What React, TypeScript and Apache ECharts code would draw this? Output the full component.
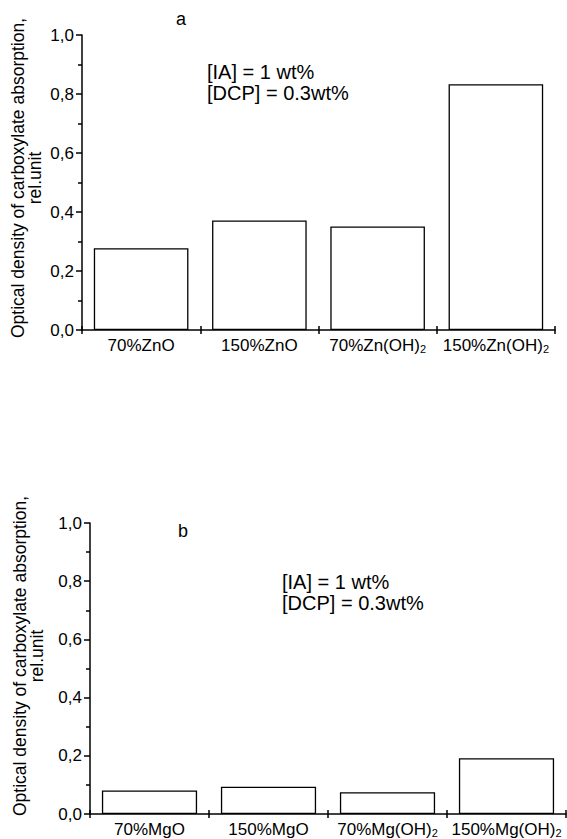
import React, { useEffect, useRef } from 'react';
import * as echarts from 'echarts';

const categoriesA = ['70%ZnO', '150%ZnO', '70%Zn(OH)2', '150%Zn(OH)2'];
const valuesA = [0.277, 0.371, 0.351, 0.833];
const categoriesB = ['70%MgO', '150%MgO', '70%Mg(OH)2', '150%Mg(OH)2'];
const valuesB = [0.081, 0.094, 0.075, 0.192];
const yTicks = [0, 0.2, 0.4, 0.6, 0.8, 1.0];
const yTickLabels = ['0,0', '0,2', '0,4', '0,6', '0,8', '1,0'];
const panelLetters = ['a', 'b'];
const yTitleLines = ['Optical density of carboxylate absorption,', 'rel.unit'];
const conditionLines = ['[IA] = 1 wt%', '[DCP] = 0.3wt%'];

const FONT = '"Liberation Sans", Arial, Helvetica, sans-serif';

const catFmt = (v: string) => {
  const m = v.match(/^(.*\(OH\))2$/);
  return m ? `{n|${m[1]}}{s|2}` : `{n|${v}}`;
};

const yFmt = (v: number) => {
  const i = yTicks.findIndex((t) => Math.abs(t - v) < 1e-6);
  return i >= 0 ? yTickLabels[i] : '';
};

const grids = [
  { left: 82, top: 35, width: 473, height: 295 },
  { left: 90, top: 523, width: 476, height: 291 },
];

export default function App() {
  const ref = useRef<HTMLDivElement>(null);
  useEffect(() => {
    if (!ref.current) return;
    const chart = echarts.init(ref.current, undefined, { renderer: 'svg' });
    const cats = [categoriesA, categoriesB];
    const vals = [valuesA, valuesB];
    const xAxes: any[] = [];
    const yAxes: any[] = [];
    const series: any[] = [];
    grids.forEach((g, gi) => {
      xAxes.push({
        type: 'category',
        gridIndex: gi,
        data: cats[gi],
        position: 'bottom',
        boundaryGap: true,
        axisLine: { show: true, lineStyle: { color: '#000', width: 1.5 } },
        axisTick: { show: true, length: 4, lineStyle: { color: '#000', width: 1.5 } },
        axisLabel: {
          interval: 0,
          margin: 6,
          formatter: catFmt,
          color: '#000',
          rich: {
            n: { fontSize: 17, fontFamily: FONT, color: '#000', lineHeight: 18 },
            s: { fontSize: 11, fontFamily: FONT, color: '#000', verticalAlign: 'bottom', lineHeight: 12 },
          },
        },
        splitLine: { show: false },
      });
      xAxes.push({
        type: 'category',
        gridIndex: gi,
        data: cats[gi],
        position: 'bottom',
        boundaryGap: true,
        axisLine: { show: false },
        axisTick: { show: true, inside: true, length: 4, lineStyle: { color: '#000', width: 1.5 } },
        axisLabel: { show: false },
        splitLine: { show: false },
      });
      yAxes.push({
        type: 'value',
        gridIndex: gi,
        min: 0,
        max: 1,
        interval: 0.2,
        axisLine: { show: true, lineStyle: { color: '#000', width: 1.5 } },
        axisTick: { show: true, length: 6, lineStyle: { color: '#000', width: 1.5 } },
        minorTick: { show: true, splitNumber: 2, length: 4, lineStyle: { color: '#000', width: 1.5 } },
        splitLine: { show: false },
        minorSplitLine: { show: false },
        axisLabel: { formatter: yFmt, margin: 8, fontSize: 17, fontFamily: FONT, color: '#000' },
      });
      series.push({
        type: 'bar',
        xAxisIndex: gi * 2,
        yAxisIndex: gi,
        data: vals[gi],
        barWidth: '80%',
        itemStyle: { color: '#fff', borderColor: '#000', borderWidth: 1.3 },
      });
    });

    const titleCenters = [
      { x: 26, y: 178 },
      { x: 28, y: 656 },
    ];
    const letterPos = [
      { x: 181, y: 19 },
      { x: 183, y: 531 },
    ];
    const condPos = [
      { x: 207, y: 61 },
      { x: 282, y: 571 },
    ];
    const graphic: any[] = [];
    for (let i = 0; i < 2; i++) {
      graphic.push({
        type: 'text',
        x: titleCenters[i].x,
        y: titleCenters[i].y,
        rotation: Math.PI / 2,
        style: {
          text: yTitleLines.join('\n'),
          fontSize: 17.5,
          lineHeight: 17,
          fontFamily: FONT,
          fill: '#000',
          align: 'center',
          verticalAlign: 'middle',
        },
      });
      graphic.push({
        type: 'text',
        x: letterPos[i].x,
        y: letterPos[i].y,
        style: {
          text: panelLetters[i],
          fontSize: 18,
          fontFamily: FONT,
          fill: '#000',
          align: 'center',
          verticalAlign: 'middle',
        },
      });
      graphic.push({
        type: 'text',
        x: condPos[i].x,
        y: condPos[i].y,
        style: {
          text: conditionLines.join('\n'),
          fontSize: 20,
          lineHeight: 21.5,
          fontFamily: FONT,
          fill: '#000',
          align: 'left',
          verticalAlign: 'top',
        },
      });
    }

    chart.setOption({
      animation: false,
      backgroundColor: '#fff',
      textStyle: { fontFamily: FONT },
      grid: grids.map((g) => ({ ...g, containLabel: false })),
      xAxis: xAxes,
      yAxis: yAxes,
      series,
      graphic,
    });
    return () => chart.dispose();
  }, []);
  return (
    <div
      ref={ref}
      style={{ position: 'fixed', left: 0, top: 0, width: 567, height: 839, background: '#fff' }}
    />
  );
}
